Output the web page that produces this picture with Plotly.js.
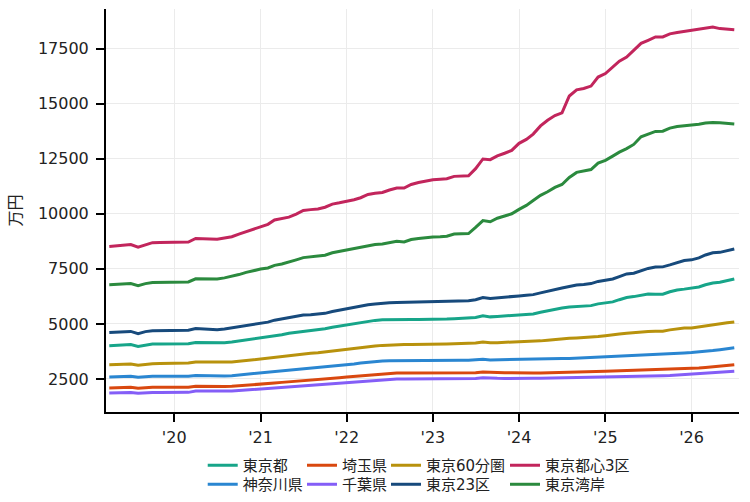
<!DOCTYPE html>
<html><head><meta charset="utf-8">
<script src="https://cdn.plot.ly/plotly-3.0.1.min.js"></script>
<style>html,body{margin:0;padding:0;background:#fff}#chart{width:750px;height:502px}</style>
</head><body><div id="chart"></div>
<script>
const months = [
 '2019-04','2019-05','2019-06','2019-07','2019-08','2019-09','2019-10','2019-11','2019-12',
 '2020-01','2020-02','2020-03','2020-04','2020-05','2020-06','2020-07','2020-08','2020-09','2020-10','2020-11','2020-12',
 '2021-01','2021-02','2021-03','2021-04','2021-05','2021-06','2021-07','2021-08','2021-09','2021-10','2021-11','2021-12',
 '2022-01','2022-02','2022-03','2022-04','2022-05','2022-06','2022-07','2022-08','2022-09','2022-10','2022-11','2022-12',
 '2023-01','2023-02','2023-03','2023-04','2023-05','2023-06','2023-07','2023-08','2023-09','2023-10','2023-11','2023-12',
 '2024-01','2024-02','2024-03','2024-04','2024-05','2024-06','2024-07','2024-08','2024-09','2024-10','2024-11','2024-12',
 '2025-01','2025-02','2025-03','2025-04','2025-05','2025-06','2025-07','2025-08','2025-09','2025-10','2025-11','2025-12',
 '2026-01','2026-02','2026-03','2026-04','2026-05','2026-06','2026-07'
];
const tokyo = [4010,4030,4045,4060,3980,4050,4085,4090,4090,4090,4090,4095,
 4160,4150,4140,4135,4150,4175,4220,4280,4330,
 4370,4400,4460,4510,4580,4620,4660,4690,4730,4780,
 4850,4900,4980,5020,5070,5130,5160,5190,5200,5200,
 5200,5200,5200,5200,5200,5210,5225,5240,5250,5255,
 5290,5370,5320,5340,5360,5390,5410,5430,5450,5530,
 5600,5660,5720,5770,5800,5810,5830,5910,5950,6000,
 6100,6200,6240,6310,6360,6350,6350,6460,6540,6580,
 6630,6680,6780,6860,6890,6960,7040];
const kanagawa = [2590,2600,2610,2620,2575,2610,2620,2620,2620,2620,2620,2620,
 2660,2650,2640,2636,2640,2650,2680,2710,2740,
 2770,2790,2830,2860,2900,2930,2965,2990,3010,3040,
 3090,3120,3145,3180,3220,3260,3290,3320,3330,3335,
 3335,3335,3335,3335,3335,3338,3340,3343,3345,3348,
 3360,3390,3365,3370,3375,3375,3370,3370,3376,3385,
 3400,3415,3425,3435,3450,3455,3460,3478,3490,3505,
 3520,3540,3560,3575,3590,3600,3605,3630,3660,3680,
 3700,3720,3760,3790,3830,3870,3920];
const saitama = [2090,2100,2110,2120,2075,2110,2120,2120,2120,2120,2120,2120,
 2165,2158,2152,2150,2155,2165,2185,2210,2235,
 2255,2280,2315,2345,2375,2405,2435,2460,2490,2510,
 2535,2560,2585,2615,2645,2680,2700,2730,2755,2770,
 2772,2772,2772,2772,2772,2772,2772,2775,2775,2775,
 2785,2815,2795,2790,2785,2780,2770,2770,2770,2775,
 2780,2790,2800,2805,2815,2822,2830,2842,2850,2865,
 2875,2882,2890,2895,2905,2915,2920,2930,2950,2965,
 2975,2995,3020,3045,3070,3110,3150];
const chiba = [1860,1870,1880,1890,1848,1880,1890,1890,1890,1890,1890,1892,
 1950,1945,1940,1937,1940,1952,1975,2000,2025,
 2045,2070,2100,2130,2160,2185,2210,2230,2250,2265,
 2295,2315,2340,2365,2390,2420,2445,2480,2495,2500,
 2500,2500,2500,2500,2500,2502,2505,2508,2510,2514,
 2525,2555,2530,2530,2525,2520,2510,2520,2530,2535,
 2540,2545,2548,2552,2558,2565,2575,2588,2595,2600,
 2605,2612,2618,2625,2632,2640,2648,2660,2680,2690,
 2705,2730,2755,2780,2800,2825,2845];
const tokyo60 = [3145,3160,3170,3180,3120,3170,3195,3200,3210,3215,3220,3225,
 3270,3265,3258,3255,3260,3270,3300,3340,3375,
 3405,3440,3490,3530,3570,3610,3645,3665,3690,3730,
 3780,3820,3860,3890,3930,3970,3995,4025,4045,4055,
 4060,4060,4060,4060,4060,4070,4085,4095,4100,4105,
 4130,4180,4140,4150,4165,4170,4180,4185,4195,4230,
 4260,4300,4330,4350,4365,4380,4395,4430,4465,4490,
 4540,4580,4610,4640,4660,4665,4665,4730,4780,4810,
 4820,4870,4930,4980,5010,5050,5090];
const tokyo23 = [4610,4630,4650,4660,4560,4650,4690,4695,4700,4700,4705,4710,
 4790,4770,4750,4740,4770,4820,4880,4950,4990,
 5040,5080,5170,5230,5290,5340,5400,5420,5450,5480,
 5560,5620,5700,5740,5790,5870,5900,5940,5960,5975,
 5985,5995,6000,6000,6000,6010,6020,6030,6040,6055,
 6100,6200,6160,6180,6200,6220,6270,6300,6330,6410,
 6490,6570,6630,6700,6770,6790,6830,6930,6980,7040,
 7150,7270,7300,7430,7520,7580,7590,7680,7800,7880,
 7910,8000,8130,8230,8250,8330,8400];
const central3 = [8520,8550,8570,8600,8480,8600,8690,8700,8710,8710,8715,8720,
 8880,8870,8850,8840,8900,8960,9080,9200,9310,
 9430,9520,9720,9790,9850,9990,10150,10190,10220,10300,
 10440,10500,10560,10640,10730,10880,10930,10970,11080,11170,
 11170,11330,11420,11480,11550,11570,11590,11700,11720,11730,
 12050,12490,12460,12630,12750,12880,13200,13380,13620,13990,
 14250,14460,14580,15350,15630,15690,15800,16210,16370,16650,
 16930,17120,17420,17740,17880,18030,18030,18170,18230,18280,
 18310,18380,18440,18480,18410,18380,18360];
const bayside = [6780,6800,6810,6830,6740,6830,6880,6890,6895,6900,6900,6905,
 7050,7045,7040,7040,7090,7150,7240,7340,7420,
 7490,7540,7660,7720,7830,7910,8010,8040,8060,8120,
 8230,8290,8360,8420,8470,8560,8610,8630,8700,8750,
 8720,8830,8880,8920,8950,8960,8980,9080,9090,9100,
 9380,9690,9640,9800,9900,10000,10200,10380,10600,10840,
 11000,11200,11330,11650,11880,11950,12010,12300,12430,12620,
 12800,12960,13150,13500,13620,13740,13750,13890,13960,13990,
 14030,14070,14120,14150,14130,14100,14080];

const seriesNames = ['東京都','神奈川県','埼玉県','千葉県','東京60分圏','東京23区','東京都心3区','東京湾岸'];
const seriesValues = [tokyo, kanagawa, saitama, chiba, tokyo60, tokyo23, central3, bayside];
const seriesColors = ['#17a589','#2a86d1','#d9480f','#845ef7','#b8920d','#174a7c','#c2255c','#2b8a3e'];

const xTickVals = ['2020-01-01','2021-01-01','2022-01-01','2023-01-01','2024-01-01','2025-01-01','2026-01-01'];
const xTickText = ["'20","'21","'22","'23","'24","'25","'26"];
const yTickVals = [2500,5000,7500,10000,12500,15000,17500];

// legend slot for each series: column (0..3) and row (0..1)
const legendCol = [0,0,1,1,2,2,3,3];
const legendRow = [0,1,0,1,0,1,0,1];
const colX = [0.1528, 0.3096, 0.4423, 0.6303];
const rowY = [-0.0918, -0.1390];

const FONT = 'DejaVu Sans, "Noto Sans CJK JP", sans-serif';

const traces = seriesNames.map((n,i)=>({
  type:'scatter', mode:'lines', name:n, x:months, y:seriesValues[i],
  line:{color:seriesColors[i], width:3},
  legend: i === 0 ? 'legend' : 'legend' + (i+1)
}));

const layout = {
  width:750, height:502,
  margin:{l:106, r:11, t:9, b:90, autoexpand:false},
  paper_bgcolor:'#fff', plot_bgcolor:'#fff',
  font:{family:FONT, size:16, color:'#222'},
  showlegend:true,
  xaxis:{type:'date', range:['2019-03-18','2026-07-21'],
    tickvals:xTickVals, ticktext:xTickText,
    showgrid:true, gridcolor:'#ebebeb', gridwidth:1,
    showline:true, linecolor:'#000', linewidth:2,
    ticks:'outside', ticklen:8, tickwidth:2, tickcolor:'#000', ticklabelstandoff:2,
    tickfont:{size:16, color:'#222'}, zeroline:false, automargin:false},
  yaxis:{range:[1000,19300], tickvals:yTickVals, tickformat:'d',
    title:{text:'万円', font:{size:16, color:'#222'}, standoff:12},
    showgrid:true, gridcolor:'#ebebeb', gridwidth:1,
    showline:true, linecolor:'#000', linewidth:2,
    ticks:'outside', ticklen:8, tickwidth:2, tickcolor:'#000', ticklabelstandoff:4,
    tickfont:{size:16, color:'#222'}, zeroline:false, automargin:false}
};

seriesNames.forEach((n,i)=>{
  const key = i === 0 ? 'legend' : 'legend' + (i+1);
  layout[key] = {orientation:'v', xanchor:'left', yanchor:'top',
    x:colX[legendCol[i]], y:rowY[legendRow[i]],
    font:{family:FONT, size:15, color:'#222'}, bgcolor:'rgba(0,0,0,0)', itemwidth:30};
});

Plotly.newPlot('chart', traces, layout, {displayModeBar:false, staticPlot:true});
</script></body></html>
